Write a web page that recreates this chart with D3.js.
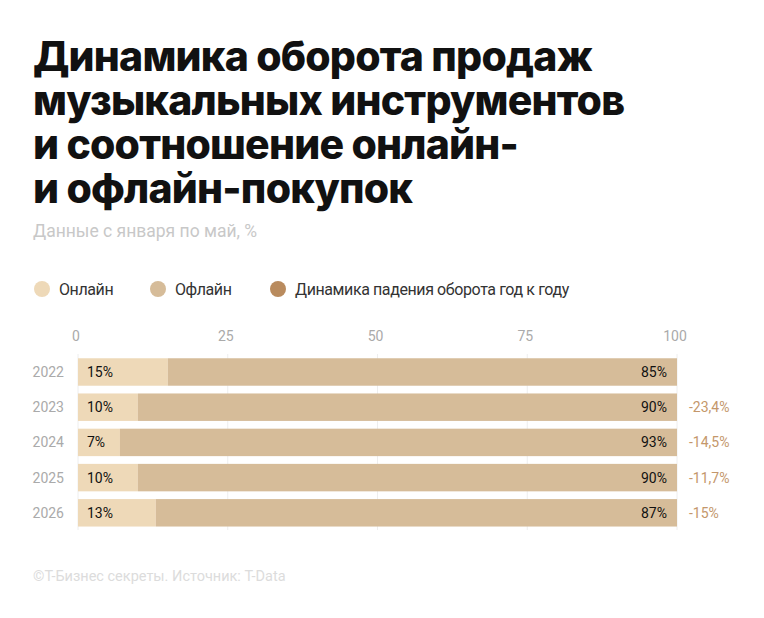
<!DOCTYPE html>
<html><head><meta charset="utf-8">
<script src="https://cdn.jsdelivr.net/npm/d3@7"></script>
<style>
body{margin:0;background:#fff;}
</style></head>
<body>
<svg id="c" width="764" height="618"></svg>
<script>
const years = ["2022","2023","2024","2025","2026"];
const online = [15,10,7,10,13];
const offline = [85,90,93,90,87];
const dynamics = [null,"-23,4%","-14,5%","-11,7%","-15%"];
const ticks = [0,25,50,75,100];
const titleLines = ["Динамика оборота продаж","музыкальных инструментов","и соотношение онлайн-","и офлайн-покупок"];
const subtitle = "Данные с января по май, %";
const legendItems = ["Онлайн","Офлайн","Динамика падения оборота год к году"];
const source = "©Т-Бизнес секреты. Источник: T-Data";

const colOnline="#EED9B8", colOffline="#D6BC99", colDyn="#B98B5E";
const num="Roboto, 'Noto Sans', sans-serif";
const sans="Roboto, 'Noto Sans', sans-serif";

const svg=d3.select("#c");
svg.append("rect").attr("width",764).attr("height",618).attr("fill","#fff");

const title=svg.append("text").attr("x",33).attr("y",71)
  .attr("font-family","Inter, Roboto, sans-serif").attr("font-weight",800)
  .attr("font-size",41).attr("letter-spacing",-0.8).attr("fill","#111");
title.selectAll("tspan").data(titleLines).join("tspan")
  .attr("x",33).attr("dy",(d,i)=>i===0?0:44).text(d=>d);

svg.append("text").attr("x",33).attr("y",237).attr("font-family",sans)
  .attr("font-size",17.5).attr("fill","#c8c8c8").text(subtitle);

const legendX=[42,158,278];
const legendCols=[colOnline,colOffline,colDyn];
const lg=svg.append("g").selectAll("g").data(legendItems).join("g")
  .attr("transform",(d,i)=>`translate(${legendX[i]},289)`);
lg.append("circle").attr("r",8).attr("fill",(d,i)=>legendCols[i]);
lg.append("text").attr("x",17).attr("y",6).attr("font-family",sans)
  .attr("font-size",16).attr("letter-spacing",-0.4).attr("fill","#333").text(d=>d);

const x=d3.scaleLinear().domain([0,100]).range([78,677]);
const y=d3.scaleBand().domain(years).range([356.5,528.3]).paddingInner(0.22).paddingOuter(0.05);

// grid
svg.append("g").selectAll("line").data(ticks).join("line")
  .attr("x1",d=>x(d)).attr("x2",d=>x(d)).attr("y1",354).attr("y2",530)
  .attr("stroke","#eeeeee").attr("stroke-width",1);

// x axis labels
svg.append("g").selectAll("text").data(ticks).join("text")
  .attr("x",d=>x(d)-2).attr("y",341).attr("text-anchor","middle")
  .attr("font-family",num).attr("font-size",14).attr("fill","#aaa").text(d=>d);

// year labels
svg.append("g").selectAll("text").data(years).join("text")
  .attr("x",64).attr("y",d=>y(d)+y.bandwidth()/2+5).attr("text-anchor","end")
  .attr("font-family",num).attr("font-size",14).attr("fill","#aaa").text(d=>d);

const rows=years.map((yr,i)=>({yr,on:online[i],off:offline[i],dyn:dynamics[i]}));
const g=svg.append("g");
g.selectAll("rect.on").data(rows).join("rect").attr("class","on")
  .attr("x",x(0)).attr("y",d=>y(d.yr)).attr("width",d=>x(d.on)-x(0)).attr("height",y.bandwidth())
  .attr("fill",colOnline);
g.selectAll("rect.off").data(rows).join("rect").attr("class","off")
  .attr("x",d=>x(d.on)).attr("y",d=>y(d.yr)).attr("width",d=>x(d.on+d.off)-x(d.on)).attr("height",y.bandwidth())
  .attr("fill",colOffline);
g.selectAll("text.on").data(rows).join("text").attr("class","on")
  .attr("x",x(0)+9).attr("y",d=>y(d.yr)+y.bandwidth()/2+5)
  .attr("font-family",num).attr("font-size",14).attr("fill","#111").text(d=>d.on+"%");
g.selectAll("text.off").data(rows).join("text").attr("class","off")
  .attr("x",x(100)-10).attr("y",d=>y(d.yr)+y.bandwidth()/2+5).attr("text-anchor","end")
  .attr("font-family",num).attr("font-size",14).attr("fill","#111").text(d=>d.off+"%");
g.selectAll("text.dyn").data(rows.filter(d=>d.dyn)).join("text").attr("class","dyn")
  .attr("x",x(100)+12).attr("y",d=>y(d.yr)+y.bandwidth()/2+5)
  .attr("font-family",num).attr("font-size",14).attr("fill","#C4976B").text(d=>d.dyn);

svg.append("text").attr("x",33).attr("y",581).attr("font-family",sans)
  .attr("font-size",14.5).attr("fill","#dcdcdc").text(source);
</script>
</body></html>
